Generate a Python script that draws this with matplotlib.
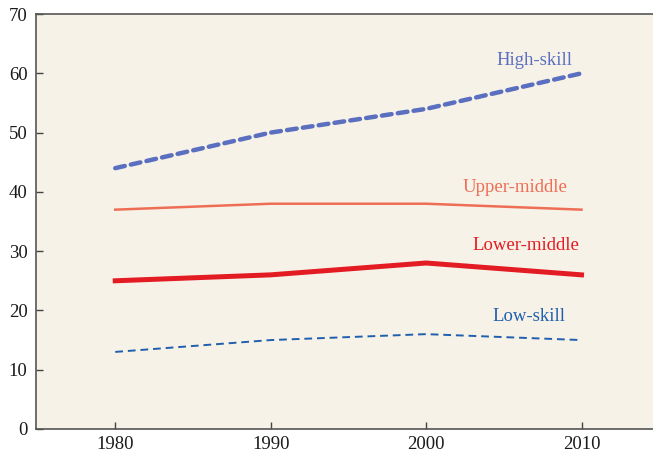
import matplotlib.pyplot as plt

years = [1980, 1990, 2000, 2010]
high_skill = [44, 50, 54, 60]
upper_middle = [37, 38, 38, 37]
lower_middle = [25, 26, 28, 26]
low_skill = [13, 15, 16, 15]

plt.rcParams['font.family'] = ['Liberation Serif', 'DejaVu Serif']

bg = '#f7f2e8'
fig = plt.figure(figsize=(6.53, 4.54), dpi=100)
fig.patch.set_facecolor('white')
ax = fig.add_axes([0.0551, 0.0551, 0.9449, 0.914])
ax.set_facecolor(bg)

ax.plot(years, high_skill, color='#5a6fbf', lw=3.2, linestyle=(0, (2.2, 1.4)),
        dash_capstyle='round')
ax.plot(years, upper_middle, color='#ee6e55', lw=1.8)
ax.plot(years, lower_middle, color='#e31b23', lw=3.6)
ax.plot(years, low_skill, color='#1f5fad', lw=1.4, linestyle=(0, (4, 2.5)))

# labels at right end of each line
ax.text(2007, 62.2, 'High-skill', color='#5a6fbf', fontsize=13.5, ha='center', va='center')
ax.text(2005.7, 40.8, 'Upper-middle', color='#ee6e55', fontsize=13.5, ha='center', va='center')
ax.text(2006.4, 30.9, 'Lower-middle', color='#e31b23', fontsize=13.5, ha='center', va='center')
ax.text(2006.6, 19, 'Low-skill', color='#1f5fad', fontsize=13.5, ha='center', va='center')

ax.set_xlim(1974.9, 2014.6)
ax.set_ylim(0, 70)
ax.set_xticks(years)
ax.set_yticks(range(0, 71, 10))
ax.tick_params(direction='in', length=5, width=1, color='#444444', labelsize=13.5,
               labelcolor='#1a1a1a')
ax.tick_params(axis='y', pad=6)
ax.tick_params(axis='x', pad=5)
for s in ['left', 'bottom', 'top']:
    ax.spines[s].set_color('#555555')
    ax.spines[s].set_linewidth(1.2)
ax.spines['right'].set_visible(False)

fig.savefig('out.png', dpi=100, facecolor=fig.get_facecolor())
